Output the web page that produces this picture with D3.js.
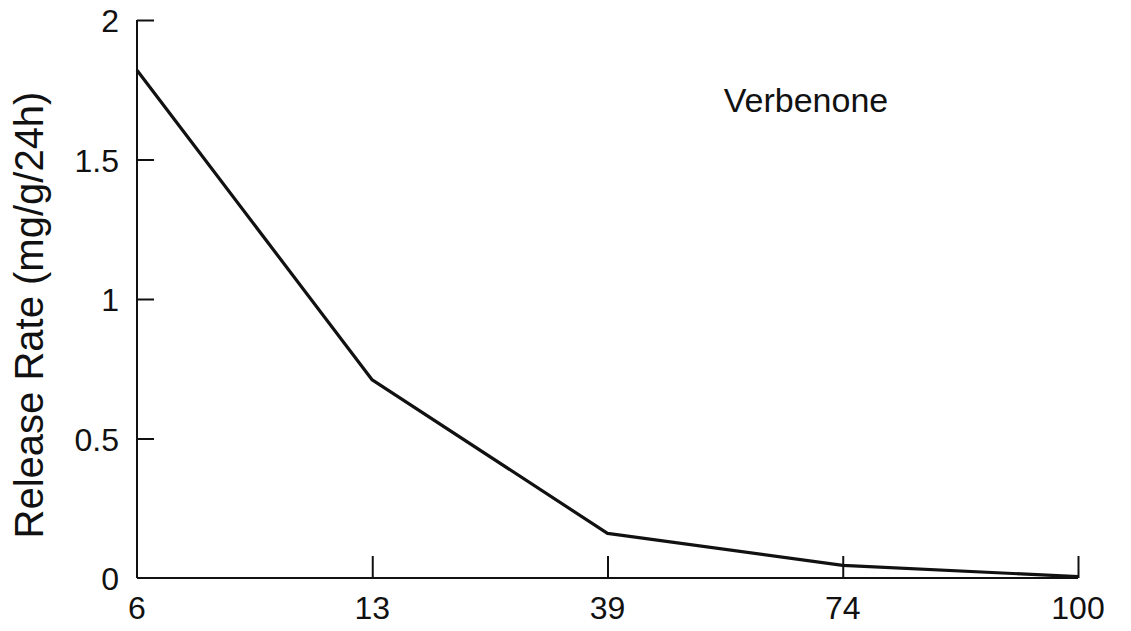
<!DOCTYPE html>
<html>
<head>
<meta charset="utf-8">
<script src="https://cdn.jsdelivr.net/npm/d3@7"></script>
<style>
  body { margin: 0; background: #fff; }
  svg { display: block; }
  text { font-family: "Liberation Sans", Arial, sans-serif; fill: #111; }
</style>
</head>
<body>
<svg id="chart" width="1131" height="631"></svg>
<script>
// values
var categories = ["6", "13", "39", "74", "100"];
var releaseRate = [1.82, 0.71, 0.16, 0.045, 0.005];
var yTicks = [0, 0.5, 1, 1.5, 2];
var yTickLabels = ["0", "0.5", "1", "1.5", "2"];

(function() {
    var svg = d3.select("#chart"),
        plotLeft = 137, plotRight = 1078, plotTop = 20, plotBottom = 578;

    var x = d3.scalePoint().domain(categories).range([plotLeft, plotRight]);
    var y = d3.scaleLinear().domain([0, 2]).range([plotBottom, plotTop]);

    // y axis, ticks point inward
    var yAxis = svg.append("g").attr("transform", "translate(" + plotLeft + ",0)")
        .call(d3.axisRight(y).tickValues(yTicks).tickSize(17).tickFormat(""));
    yAxis.select(".domain").attr("d", "M0," + plotTop + "V" + plotBottom).attr("stroke", "#111").attr("stroke-width", 2);
    yAxis.selectAll(".tick line").attr("stroke", "#111").attr("stroke-width", 2);
    yAxis.selectAll(".tick").filter(function(d) { return d === 0; }).select("line").remove();

    svg.append("g").selectAll("text").data(yTicks).enter().append("text")
        .attr("x", plotLeft - 18)
        .attr("y", function(d) { return y(d) + 12; })
        .attr("text-anchor", "end")
        .attr("font-size", 32)
        .text(function(d, i) { return yTickLabels[i]; });

    // x axis, ticks point upward
    var xAxis = svg.append("g").attr("transform", "translate(0," + plotBottom + ")")
        .call(d3.axisTop(x).tickSize(22).tickFormat(""));
    xAxis.select(".domain").attr("d", "M" + plotLeft + ",0H" + plotRight).attr("stroke", "#111").attr("stroke-width", 2);
    xAxis.selectAll(".tick line").attr("stroke", "#111").attr("stroke-width", 2);
    xAxis.selectAll(".tick").filter(function(d) { return d === "6"; }).select("line").remove();

    svg.append("g").selectAll("text").data(categories).enter().append("text")
        .attr("x", function(d) { return x(d); })
        .attr("y", plotBottom + 41)
        .attr("text-anchor", "middle")
        .attr("font-size", 32)
        .text(function(d) { return d; });

    // the series
    var line = d3.line()
        .x(function(d, i) { return x(categories[i]); })
        .y(function(d) { return y(d); });

    svg.append("path").datum(releaseRate)
        .attr("d", line)
        .attr("fill", "none")
        .attr("stroke", "#111")
        .attr("stroke-width", 3.2)
        .attr("stroke-linejoin", "round");

    // labels
    svg.append("text")
        .attr("transform", "translate(43,315) rotate(-90)")
        .attr("text-anchor", "middle")
        .attr("font-size", 40)
        .text("Release Rate (mg/g/24h)");

    svg.append("text")
        .attr("x", 806)
        .attr("y", 112)
        .attr("text-anchor", "middle")
        .attr("font-size", 34)
        .text("Verbenone");
}());
</script>
</body>
</html>
